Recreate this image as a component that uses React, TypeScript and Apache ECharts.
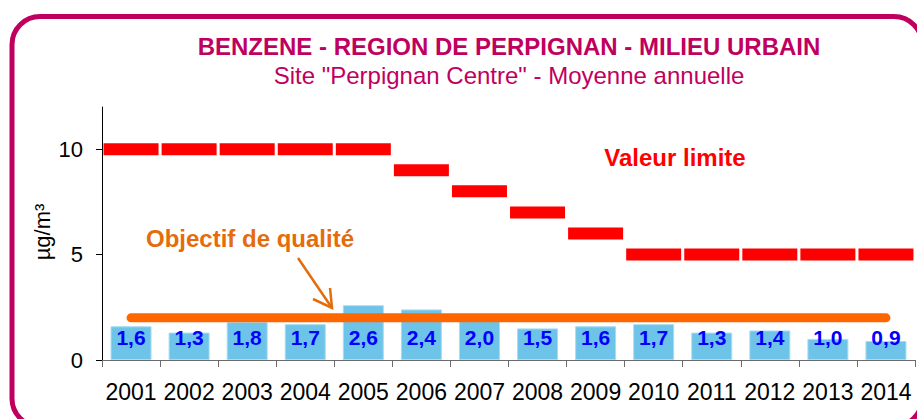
import React, { useEffect, useRef } from "react";
import * as echarts from "echarts";

const years = ["2001", "2002", "2003", "2004", "2005", "2006", "2007", "2008", "2009", "2010", "2011", "2012", "2013", "2014"];
const benzene = [1.6, 1.3, 1.8, 1.7, 2.6, 2.4, 2.0, 1.5, 1.6, 1.7, 1.3, 1.4, 1.0, 0.9];
const valeurLimite = [10, 10, 10, 10, 10, 9, 8, 7, 6, 5, 5, 5, 5, 5];
const objectifQualite = [2, 2, 2, 2, 2, 2, 2, 2, 2, 2, 2, 2, 2, 2];
const yTicks = [0, 5, 10];

const FONT = "Arial, 'Liberation Sans', sans-serif";
const MAGENTA = "#C0005F";

export default function App() {
  const ref = useRef<HTMLDivElement>(null);
  useEffect(() => {
    document.body.style.margin = "0";
    const chart = echarts.init(ref.current!, null, { renderer: "svg" });
    chart.setOption({
      animation: false,
      backgroundColor: "#ffffff",
      textStyle: { fontFamily: FONT },
      grid: { left: 102, right: 2, top: 107, bottom: 59 },
      xAxis: {
        type: "category",
        data: years,
        boundaryGap: true,
        axisLine: { lineStyle: { color: "#6b6b6b", width: 1 } },
        axisTick: { show: true, length: 7, lineStyle: { color: "#6b6b6b" } },
        axisLabel: { color: "#000", fontSize: 23, margin: 20, fontFamily: FONT, interval: 0 },
      },
      yAxis: {
        type: "value",
        min: 0,
        max: 12,
        interval: 5,
        axisLine: { show: true, lineStyle: { color: "#000", width: 1 } },
        axisTick: { show: true, length: 6, customValues: yTicks, lineStyle: { color: "#000" } },
        axisLabel: { color: "#000", fontSize: 22, margin: 19, customValues: yTicks, fontFamily: FONT },
        splitLine: { show: false },
      },
      series: [
        {
          name: "Benzène",
          type: "bar",
          data: benzene,
          barWidth: 41,
          z: 2,
          itemStyle: { color: "#6EC3E8", borderColor: "#A8DCF2", borderWidth: 1 },
          label: {
            show: true,
            position: "insideBottom",
            distance: 12,
            color: "#0000FF",
            fontWeight: "bold",
            fontSize: 21,
            fontFamily: FONT,
            formatter: (p: any) => Number(p.value).toFixed(1).replace(".", ","),
          },
        },
        {
          name: "Objectif de qualité",
          type: "line",
          data: objectifQualite,
          symbol: "none",
          z: 3,
          lineStyle: { color: "#FF6600", width: 9, cap: "round" },
        },
        {
          name: "Valeur limite",
          type: "scatter",
          data: valeurLimite,
          symbol: "rect",
          symbolSize: [55, 12],
          z: 4,
          itemStyle: { color: "#FF0000", opacity: 1 },
        },
      ],
      graphic: [
        {
          type: "rect",
          shape: { x: 12, y: 16.5, width: 910, height: 410, r: 28 },
          style: { fill: "none", stroke: MAGENTA, lineWidth: 5 },
          z: 10,
        },
        {
          type: "text",
          x: 509,
          y: 46,
          style: {
            text: "BENZENE - REGION DE PERPIGNAN - MILIEU URBAIN",
            fill: MAGENTA,
            font: `bold 24px ${FONT}`,
            align: "center",
            verticalAlign: "middle",
          },
        },
        {
          type: "text",
          x: 509,
          y: 75,
          style: {
            text: 'Site "Perpignan Centre" - Moyenne annuelle',
            fill: MAGENTA,
            font: `24px ${FONT}`,
            align: "center",
            verticalAlign: "middle",
          },
        },
        {
          type: "text",
          x: 42,
          y: 232,
          rotation: Math.PI / 2,
          style: {
            text: "µg/m³",
            fill: "#000",
            font: `22px ${FONT}`,
            align: "center",
            verticalAlign: "middle",
          },
        },
        {
          type: "text",
          x: 675,
          y: 157,
          style: {
            text: "Valeur limite",
            fill: "#FF0000",
            font: `bold 24px ${FONT}`,
            align: "center",
            verticalAlign: "middle",
          },
        },
        {
          type: "text",
          x: 250,
          y: 238,
          style: {
            text: "Objectif de qualité",
            fill: "#E46C0A",
            font: `bold 24px ${FONT}`,
            align: "center",
            verticalAlign: "middle",
          },
        },
        {
          type: "line",
          shape: { x1: 298, y1: 258, x2: 332, y2: 308 },
          style: { stroke: "#E46C0A", lineWidth: 2.5 },
        },
        {
          type: "polyline",
          shape: { points: [[313, 299], [332, 308], [330, 288]] },
          style: { stroke: "#E46C0A", lineWidth: 2.5, fill: "none" },
        },
      ],
    });
    return () => chart.dispose();
  }, []);
  return <div ref={ref} style={{ width: 917, height: 419 }} />;
}
